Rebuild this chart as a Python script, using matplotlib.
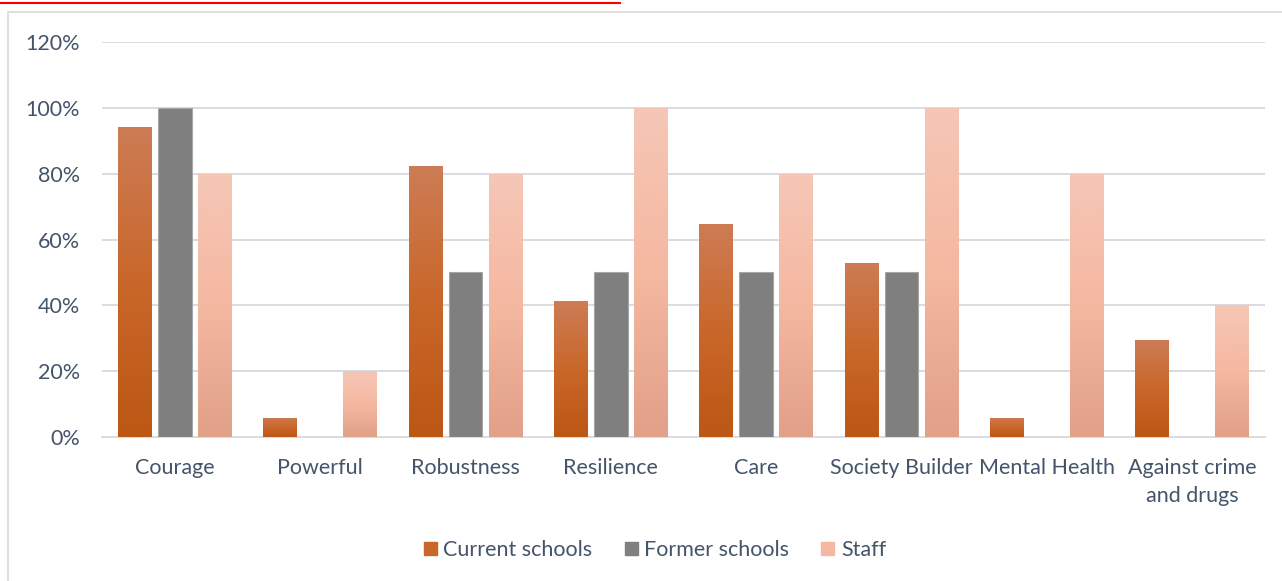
import matplotlib.pyplot as plt
import matplotlib.ticker
import matplotlib.patches as mpatches
from matplotlib.colors import LinearSegmentedColormap
import numpy as np

plt.rcParams['font.family'] = ['Lato', 'DejaVu Sans']

categories = ["Courage", "Powerful", "Robustness", "Resilience", "Care",
              "Society Builder", "Mental Health", "Against crime\nand drugs"]
current_schools = [94.1, 5.9, 82.4, 41.2, 64.7, 52.9, 5.9, 29.4]
former_schools = [100, 0, 50, 50, 50, 50, 0, 0]
staff = [80, 20, 80, 100, 80, 100, 80, 40]
series_names = ["Current schools", "Former schools", "Staff"]

text_color = '#44546A'
grid_color = '#D9DCE1'

# bottom -> middle -> top colours for the gradient fills
current_grad = LinearSegmentedColormap.from_list('cur', ['#BC5714', '#C9672A', '#CD7C55'])
staff_grad = LinearSegmentedColormap.from_list('stf', ['#E1A088', '#F5B8A1', '#F5C7B6'])

fig = plt.figure(figsize=(12.82, 5.81), dpi=100)
ax = fig.add_axes([102/1282, 1 - 437/581, (1265-102)/1282, (437-42)/581])

X = np.arange(len(categories))
offset = 0.275
width = 0.232


def gradient_bars(xs, vals, cmap):
    grad = np.linspace(0, 1, 256).reshape(-1, 1)
    bars = ax.bar(xs, vals, width, color='none', edgecolor='none', zorder=3)
    for b, v in zip(bars, vals):
        if v <= 0:
            continue
        x0 = b.get_x()
        im = ax.imshow(grad, cmap=cmap, origin='lower', aspect='auto',
                       extent=[x0, x0 + width, 0, v], zorder=3, interpolation='bilinear')
        im.set_clip_path(b)
    return bars


gradient_bars(X - offset, current_schools, current_grad)
ax.bar(X, former_schools, width, color='#7F7F7F', edgecolor='#A6A6A6', linewidth=0.8, zorder=3)
gradient_bars(X + offset, staff, staff_grad)

ax.set_xlim(-0.5, len(categories) - 0.5)
ax.set_ylim(0, 120)
ax.set_yticks(np.arange(0, 121, 20))
ax.yaxis.set_major_formatter(matplotlib.ticker.FuncFormatter(lambda v, p: "%d%%" % v))
ax.set_xticks(X)
ax.set_xticklabels(categories, linespacing=1.5)

ax.grid(axis='y', color=grid_color, linewidth=1.4, zorder=0)
for s in ['top', 'right', 'left']:
    ax.spines[s].set_visible(False)
ax.spines['bottom'].set_color(grid_color)
ax.spines['bottom'].set_linewidth(1.4)
ax.tick_params(axis='both', length=0, labelsize=15.5, colors=text_color)
ax.tick_params(axis='x', pad=15)
ax.tick_params(axis='y', pad=16)

handles = [mpatches.Patch(color='#C9672A'), mpatches.Patch(color='#7F7F7F'),
           mpatches.Patch(color='#F5B8A1')]
leg = fig.legend(handles, series_names, loc='center', bbox_to_anchor=(655/1282, 1 - 550/581),
                 ncol=3, frameon=False, fontsize=15.5, handlelength=0.6, handleheight=0.6,
                 handletextpad=0.3, columnspacing=1.5)
for t in leg.get_texts():
    t.set_color(text_color)

# chart frame and the underline above it
fig.add_artist(mpatches.Rectangle((8/1282, -0.01), 1.0, 1 - 12/581 + 0.01, transform=fig.transFigure,
                                  fill=False, edgecolor='#D9D9D9', linewidth=1.2))
fig.add_artist(plt.Line2D([0, 620/1282], [1 - 3/581, 1 - 3/581], transform=fig.transFigure,
                          color='#FF0000', linewidth=1.5))

plt.savefig('out.png', dpi=100)
